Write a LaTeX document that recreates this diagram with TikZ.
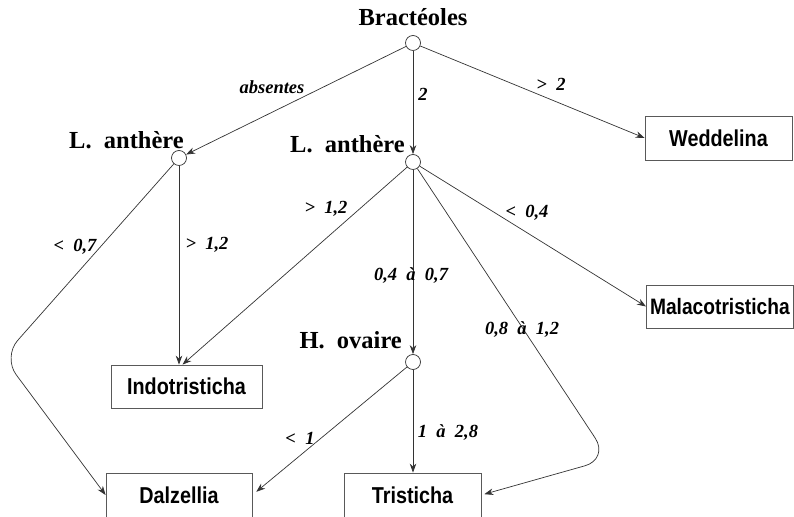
\documentclass[tikz,border=0pt]{standalone}
\usepackage{fontspec}
\setmainfont{Liberation Serif}
\newfontfamily\taxonfont{Liberation Sans}[FakeStretch=0.86]
\usetikzlibrary{arrows.meta,positioning}

\tikzset{
	crit/.style={circle, draw=black!80, fill=white, line width=0.7pt, minimum size=15pt, inner sep=0pt},
	head/.style={inner sep=0pt, font=\fontsize{24.5}{28}\selectfont\bfseries},
	taxon/.style={rectangle, draw=black!65, line width=0.8pt, minimum height=44pt, inner sep=0pt,
		font=\taxonfont\fontsize{23}{26}\selectfont\bfseries},
	cond/.style={inner sep=0pt, font=\fontsize{18.5}{21}\selectfont\bfseries\itshape},
	branch/.style={draw=black!80, line width=0.7pt, -{Stealth[length=9pt,width=6.5pt]}},
}

\begin{document}
\begin{tikzpicture}[x=1pt, y=1pt]
	\useasboundingbox (0,0) rectangle (794,516);
	\clip (0,0) rectangle (794,516);
	% Decision points
	\node[crit] (bract) at (413,473) {};
	\node[crit] (la1) at (179,358) {};
	\node[crit] (la2) at (413,354) {};
	\node[crit] (ho) at (413,154) {};
	% Criteria
	\node[head, above=9pt of bract] (bractlbl) {Bractéoles};
	\node[head, anchor=south east] (la1lbl) at ([shift={(5pt,1.5pt)}]la1.north) {L.\ \ anthère};
	\node[head, anchor=south east] (la2lbl) at ([shift={(-8pt,1.5pt)}]la2.north) {L.\ \ anthère};
	\node[head, anchor=south east] (holbl) at ([shift={(-11pt,5.5pt)}]ho.north) {H.\ \ ovaire};
	% Genera
	\node[taxon, minimum width=147pt] (wedd) at (718.5,378) {Weddelina};
	\node[taxon, minimum height=43pt, minimum width=147pt, anchor=west, inner xsep=1pt,
		font=\taxonfont\fontsize{22.3}{26}\selectfont\bfseries] (malaco) at (646,209.5) {Malacotristicha};
	\node[taxon, minimum width=151pt, minimum height=43pt] (indo) at (186.5,129.5) {Indotristicha};
	\node[taxon, minimum width=146pt] (dalz) at (179,21) {Dalzellia};
	\node[taxon, minimum width=137pt] (trist) at (412.5,21) {Tristicha};
	% Bends
	\coordinate (bendD) at (3,159);
	\coordinate (bendT) at (609,57);
	% Branches from Bractéoles
	\draw[branch] (bract) -- (la1);
	\draw[branch] (bract) -- (la2);
	\draw[branch] (bract) -- (wedd.west);
	% Branches from first L. anthère
	\draw[branch] (la1) -- (la1 |- indo.north);
	\draw[branch, rounded corners=22pt] (la1) -- (bendD) -- (dalz.west);
	% Branches from second L. anthère
	\draw[branch] (la2) -- ([xshift=-4pt]indo.north);
	\draw[branch] (la2) -- (malaco.west);
	\draw[branch] (la2) -- (ho);
	\draw[branch, rounded corners=25pt, shorten >=3pt] (la2) -- (bendT) -- (trist.east);
	% Branches from H. ovaire
	\draw[branch, shorten >=5pt] (ho) -- (dalz.east);
	\draw[branch] (ho) -- (ho |- trist.north);
	% Conditions
	\foreach \nm/\x/\y/\txt in {
		cabs/272/429/absentes,
		ctwo/423/422/2,
		cgttwo/551/432/{>\ \ 2},
		cltseven/75/269/{<\ \ 0,7},
		cgtone/207/271/{>\ \ 1,2},
		cgtonem/326/307/{>\ \ 1,2},
		cltfour/527/303/{<\ \ 0,4},
		cmid/411/240/{0,4\ \ à\ \ 0,7},
		chigh/522/186/{0,8\ \ à\ \ 1,2},
		cltone/300/78/{<\ \ 1},
		crange/448/83/{1\ \ à\ \ 2,8}}{
		\node[cond] (\nm) at (\x,\y) {\txt};
	}
\end{tikzpicture}
\end{document}
